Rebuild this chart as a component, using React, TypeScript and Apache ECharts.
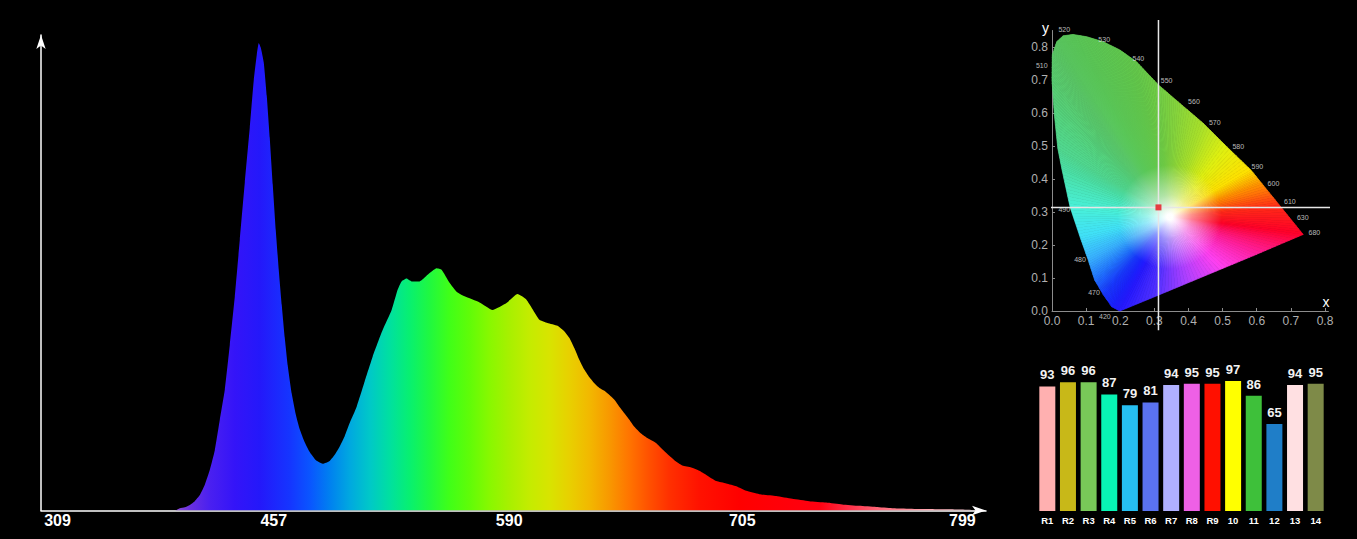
import React, { useEffect, useRef } from "react";
import * as echarts from "echarts";

const FONT = "'Liberation Sans', Arial, Helvetica, sans-serif";

// ---------- Spectrum (detector channel, relative intensity) ----------
const spectrum: number[][] = [
  [0, 0], [67, 0], [69.5, 0.005], [72, 0.007], [74.5, 0.012], [77, 0.02], [79.5, 0.033],
  [82, 0.055], [84.5, 0.087], [87, 0.129], [89.5, 0.194], [92, 0.258], [94.5, 0.354],
  [97, 0.457], [99.5, 0.579], [102, 0.701], [104.5, 0.819], [106.5, 0.921], [108, 0.975],
  [109, 1.0], [110, 0.99], [111.5, 0.958], [113, 0.887], [114.5, 0.797], [116, 0.697],
  [117.5, 0.6], [119, 0.515], [120.5, 0.44], [122, 0.37], [123.5, 0.31], [125.5, 0.25],
  [127.5, 0.206], [129.5, 0.174], [132, 0.146], [134.5, 0.125], [137.5, 0.108], [141, 0.1],
  [144.5, 0.106], [147, 0.119], [149.5, 0.137], [152, 0.159], [154.5, 0.187], [158, 0.222],
  [162, 0.276], [166, 0.329], [171, 0.386], [175.5, 0.429], [178.5, 0.472], [180.5, 0.49],
  [183, 0.496], [185.5, 0.49], [189.5, 0.49], [193.5, 0.504], [198, 0.518], [200.5, 0.515],
  [204.5, 0.487], [208, 0.468], [212, 0.458], [219.5, 0.445], [226, 0.429], [233, 0.444],
  [238.5, 0.463], [243, 0.451], [249.5, 0.408], [253.5, 0.401], [258.5, 0.395], [262, 0.383],
  [264.5, 0.369], [267, 0.347], [269.5, 0.322], [272, 0.301], [274.5, 0.285], [277, 0.272],
  [279.5, 0.262], [282, 0.256], [284.5, 0.247], [287, 0.237], [289.5, 0.222], [292, 0.208],
  [294.5, 0.194], [297, 0.179], [300.5, 0.164], [303.5, 0.155], [308, 0.144], [311, 0.131],
  [314.5, 0.117], [318, 0.104], [321, 0.096], [325.5, 0.092], [329.5, 0.085], [333, 0.076],
  [338, 0.063], [343, 0.058], [348, 0.052], [353, 0.042], [359.5, 0.035], [368, 0.031],
  [376, 0.025], [384.5, 0.02], [393, 0.017], [401, 0.013], [409.5, 0.01], [418, 0.0075],
  [426, 0.005], [443, 0.003], [459.5, 0.002], [473, 0],
];
const channelMax = 473;
const wavelengthTickChannels = [8.25, 116.5, 234.35, 351, 461.15];
const wavelengthTickLabels = ["309", "457", "590", "705", "799"];
const spectrumFill: [number, string][] = [
  [67, "#9050d8"], [74.5, "#6a30e0"], [84.5, "#4a20f0"], [97, "#3414f8"], [109.5, "#2418fa"],
  [124.5, "#1535ff"], [134.5, "#0a55ff"], [144.5, "#0080f0"], [154.5, "#00a8e0"],
  [164.5, "#00c8c8"], [174.5, "#00e0a0"], [184.5, "#08f070"], [194.5, "#20f840"],
  [204.5, "#40ff18"], [214.5, "#60fc08"], [224.5, "#88f800"], [234.5, "#a8f000"],
  [244.5, "#c4ec00"], [254.5, "#d8e400"], [264.5, "#e8d000"], [274.5, "#f2b800"],
  [284.5, "#f89800"], [294.5, "#ff7400"], [304.5, "#ff5000"], [314.5, "#ff3000"],
  [329.5, "#ff1200"], [349.5, "#ff0000"], [389.5, "#ff0010"], [404.5, "#ff3048"],
  [419.5, "#ff6878"], [444.5, "#ffa8b0"], [472.5, "#ffe0e6"],
];

// ---------- CIE 1931 chromaticity diagram ----------
const locus: number[][] = [
  [0.199, 0.0], [0.175, 0.013], [0.15, 0.05], [0.125, 0.094], [0.106, 0.155], [0.082, 0.225],
  [0.053, 0.315], [0.03, 0.425], [0.017, 0.493], [0.007, 0.594], [0.0, 0.7], [0.001, 0.776],
  [0.014, 0.816], [0.033, 0.834], [0.062, 0.838], [0.102, 0.831], [0.15, 0.816], [0.199, 0.791],
  [0.248, 0.755], [0.312, 0.685], [0.375, 0.629], [0.443, 0.569], [0.512, 0.498], [0.583, 0.427],
  [0.616, 0.385], [0.671, 0.315], [0.736, 0.232], [0.6, 0.172], [0.5, 0.129], [0.4, 0.086],
  [0.3, 0.043],
];
const locusColors = [
  "#2418ff", "#1a20ff", "#1838ff", "#2070ff", "#38b0ff", "#40e0f8",
  "#48f0d8", "#4ae0a8", "#50d890", "#54d480", "#58cc70", "#5ac868",
  "#5ac860", "#5ac85c", "#5ac858", "#5cc855", "#5ec852", "#60c84e",
  "#64c84a", "#70cc44", "#88d43a", "#a8e02a", "#e0f010", "#ffe000",
  "#ff9000", "#ff2818", "#ff0028", "#ff20a0", "#ff40f0", "#b040ff",
  "#5030ff",
];
const whitePoint = [0.345, 0.285];
const chromaticity = [0.312, 0.314];
const crossXSpan = [-0.073, 0.832];
const crossYSpan = [-0.058, 0.882];
const cieTicks = [0, 0.1, 0.2, 0.3, 0.4, 0.5, 0.6, 0.7, 0.8];
const wlNames = ["520", "530", "540", "550", "560", "570", "580", "590", "600", "610", "630", "680", "510", "490", "480", "470", "420"];
const wlPos: number[][] = [
  [0.036, 0.854], [0.153, 0.824], [0.253, 0.766], [0.336, 0.699], [0.416, 0.635], [0.477, 0.572],
  [0.546, 0.498], [0.602, 0.439], [0.649, 0.385], [0.697, 0.332], [0.735, 0.283], [0.769, 0.238],
  [-0.03, 0.745], [0.036, 0.307], [0.082, 0.155], [0.123, 0.055], [0.155, -0.017],
];

// ---------- Colour rendering indices ----------
const criLabels = ["R1", "R2", "R3", "R4", "R5", "R6", "R7", "R8", "R9", "10", "11", "12", "13", "14"];
const criValues = [93, 96, 96, 87, 79, 81, 94, 95, 95, 97, 86, 65, 94, 95];
const criColors = [
  "#ffb0b0", "#c8b818", "#78c858", "#08f4b4", "#26bff2", "#5a72f0", "#b0b0ff",
  "#ee60e6", "#ff1000", "#ffff00", "#3ec03a", "#1f7ec8", "#ffe0e2", "#7e8a48",
];

function hexToRgb(h: string) {
  const n = parseInt(h.slice(1), 16);
  return [(n >> 16) & 255, (n >> 8) & 255, n & 255];
}
function mixRgb(a: number[], b: number[], t: number) {
  return a.map((v, i) => Math.round(v + (b[i] - v) * t));
}
function rgbStr(c: number[]) {
  return `rgb(${c[0]},${c[1]},${c[2]})`;
}

export default function App() {
  const ref = useRef<HTMLDivElement>(null);
  useEffect(() => {
    document.body.style.margin = "0";
    document.body.style.background = "#000";
    const chart = echarts.init(ref.current!, null, { renderer: "svg" });
    const n = locus.length;
    const WHITE = [255, 255, 255];

    const option: any = {
      animation: false,
      backgroundColor: "#000",
      textStyle: { fontFamily: FONT },
      grid: [
        { left: 41, right: 371, top: 35, bottom: 28.5 },
        { left: 1052, right: 28.6, top: 30.5, bottom: 228 },
        { left: 1037, right: 31, top: 377, bottom: 28 },
      ],
      xAxis: [
        {
          gridIndex: 0, type: "value", min: 0, max: channelMax,
          axisLine: { show: true, symbol: ["none", "arrow"], symbolSize: [7, 14], lineStyle: { color: "#fff", width: 1.5 } },
          axisTick: { show: false }, splitLine: { show: false },
          axisLabel: {
            customValues: wavelengthTickChannels,
            formatter: (v: number) => {
              const i = wavelengthTickChannels.findIndex((c) => Math.abs(c - v) < 1e-6);
              return i >= 0 ? wavelengthTickLabels[i] : "";
            },
            color: "#fff", fontSize: 16, fontWeight: "bold", margin: 2, fontFamily: FONT,
          },
        },
        {
          gridIndex: 1, type: "value", min: 0, max: 0.81,
          name: "x", nameLocation: "end", nameGap: 1,
          nameTextStyle: { color: "#fff", fontSize: 14, align: "right", verticalAlign: "bottom", padding: [0, 0, 2, 0], fontFamily: FONT },
          axisLine: { show: true, lineStyle: { color: "#8c8c8c", width: 1 } },
          axisTick: { show: true, customValues: cieTicks, inside: true, length: 3, lineStyle: { color: "#8c8c8c" } },
          axisLabel: { customValues: cieTicks, formatter: (v: number) => v.toFixed(1), color: "#b0b0b0", fontSize: 12, margin: 4, fontFamily: FONT },
          splitLine: { show: false },
        },
        {
          gridIndex: 2, type: "category", data: criLabels,
          axisLine: { show: false }, axisTick: { show: false },
          axisLabel: { color: "#fff", fontSize: 9.5, fontWeight: "bold", margin: 4, interval: 0, fontFamily: FONT },
        },
      ],
      yAxis: [
        {
          gridIndex: 0, type: "value", min: 0, max: 1.017,
          axisLine: { show: true, symbol: ["none", "arrow"], symbolSize: [7, 14], lineStyle: { color: "#fff", width: 1.5 } },
          axisTick: { show: false }, axisLabel: { show: false }, splitLine: { show: false },
        },
        {
          gridIndex: 1, type: "value", min: 0, max: 0.85,
          name: "y", nameLocation: "end", nameGap: 3,
          nameTextStyle: { color: "#fff", fontSize: 14, align: "right", verticalAlign: "middle", padding: [0, 3, 0, 0], fontFamily: FONT },
          axisLine: { show: true, lineStyle: { color: "#8c8c8c", width: 1 } },
          axisTick: { show: true, customValues: cieTicks, inside: true, length: 3, lineStyle: { color: "#8c8c8c" } },
          axisLabel: { customValues: cieTicks, formatter: (v: number) => v.toFixed(1), color: "#b0b0b0", fontSize: 12, margin: 4, fontFamily: FONT },
          splitLine: { show: false },
        },
        { gridIndex: 2, type: "value", min: 0, max: 100, show: false },
      ],
      series: [
        {
          type: "line", xAxisIndex: 0, yAxisIndex: 0, data: spectrum,
          symbol: "none", showSymbol: false, silent: true, smooth: 0.15,
          lineStyle: { width: 0, opacity: 0 },
          areaStyle: {
            opacity: 1,
            color: new echarts.graphic.LinearGradient(0, 0, 1, 0,
              spectrumFill.map(([c, col]) => ({ offset: c / channelMax, color: col }))),
          },
        },
        {
          type: "custom", xAxisIndex: 1, yAxisIndex: 1, silent: true, z: 2,
          data: locus.map((p, i) => [p[0], p[1], locus[(i + 1) % n][0], locus[(i + 1) % n][1]]),
          encode: { x: [0, 2], y: [1, 3] },
          renderItem: (params: any, api: any) => {
            const i = params.dataIndex;
            const j = (i + 1) % n;
            const pa = api.coord(locus[i]);
            const pb = api.coord(locus[j]);
            const pw = api.coord(whitePoint);
            const ca = hexToRgb(locusColors[i]);
            const cb = hexToRgb(locusColors[j]);
            const K = 10;
            const children: any[] = [];
            for (let k = 0; k < K; k++) {
              const t0 = k / K, t1 = (k + 1) / K;
              const q0 = [pa[0] + (pb[0] - pa[0]) * t0, pa[1] + (pb[1] - pa[1]) * t0];
              const q1 = [pa[0] + (pb[0] - pa[0]) * t1, pa[1] + (pb[1] - pa[1]) * t1];
              const col = mixRgb(ca, cb, (k + 0.5) / K);
              const m = [(q0[0] + q1[0]) / 2, (q0[1] + q1[1]) / 2];
              const d = Math.max(1, Math.hypot(m[0] - pw[0], m[1] - pw[1]));
              const s1 = Math.min(0.2, 3 / d);
              const s2 = Math.min(0.6, Math.max(s1 + 0.05, 22 / d));
              const s3 = Math.min(0.95, Math.max(s2 + 0.05, 52 / d));
              const grad = new echarts.graphic.LinearGradient(pw[0], pw[1], m[0], m[1], [
                { offset: 0, color: "#ffffff" },
                { offset: s1, color: "#ffffff" },
                { offset: s2, color: rgbStr(mixRgb(col, WHITE, 0.5)) },
                { offset: s3, color: rgbStr(col) },
                { offset: 1, color: rgbStr(col) },
              ], true);
              children.push({
                type: "polygon",
                shape: { points: [pw, q0, q1] },
                style: { fill: grad, stroke: grad, lineWidth: 0.7 },
              });
            }
            return { type: "group", children };
          },
        },
        {
          type: "line", xAxisIndex: 1, yAxisIndex: 1, z: 3, clip: false, silent: true,
          symbol: "none",
          data: [[chromaticity[0], crossYSpan[0]], [chromaticity[0], crossYSpan[1]]],
          lineStyle: { color: "#e6e6e6", width: 1.5 },
        },
        {
          type: "line", xAxisIndex: 1, yAxisIndex: 1, z: 3, clip: false, silent: true,
          symbol: "none",
          data: [[crossXSpan[0], chromaticity[1]], [crossXSpan[1], chromaticity[1]]],
          lineStyle: { color: "#e6e6e6", width: 1.5 },
        },
        {
          type: "scatter", xAxisIndex: 1, yAxisIndex: 1, z: 5, clip: false, silent: true,
          symbol: "rect", symbolSize: 6,
          itemStyle: { color: "#e8101a" },
          data: [chromaticity],
        },
        {
          type: "scatter", xAxisIndex: 1, yAxisIndex: 1, z: 4, clip: false, silent: true,
          symbolSize: 1, itemStyle: { color: "rgba(0,0,0,0)" },
          label: { show: true, position: "inside", formatter: "{b}", color: "#e4e4e4", fontSize: 7, fontFamily: FONT },
          data: wlPos.map((p, i) => ({ name: wlNames[i], value: p })),
        },
        {
          type: "bar", xAxisIndex: 2, yAxisIndex: 2, barWidth: 16,
          data: criValues.map((v, i) => ({ value: v, itemStyle: { color: criColors[i] } })),
          label: { show: true, position: "top", distance: 5, color: "#f2f2f2", fontSize: 13, fontWeight: "bold", fontFamily: FONT },
        },
      ],
    };
    chart.setOption(option);
    return () => chart.dispose();
  }, []);
  return (
    <div
      ref={ref}
      style={{ position: "fixed", left: 0, top: 0, width: 1357, height: 539, background: "#000" }}
    />
  );
}
